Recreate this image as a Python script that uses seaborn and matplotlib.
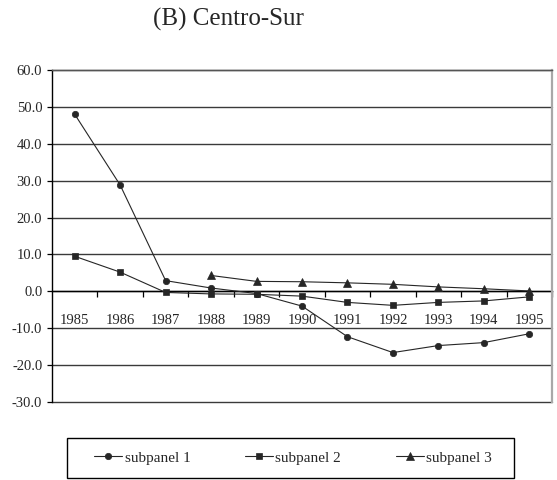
import numpy as np
import matplotlib
matplotlib.use("Agg")
import matplotlib.pyplot as plt
from matplotlib.patches import Rectangle
from matplotlib.ticker import FixedLocator, NullFormatter, FixedFormatter
import seaborn as sns

# Annual values for the Centro-Sur region
years = ["1985", "1986", "1987", "1988", "1989", "1990",
         "1991", "1992", "1993", "1994", "1995"]
subpanel_1 = [48.0, 28.8, 2.9, 0.9, -0.6, -4.0, -12.3, -16.6, -14.7, -13.9, -11.5]
subpanel_2 = [9.5, 5.2, -0.3, -0.7, -0.8, -1.3, -3.0, -3.8, -3.0, -2.6, -1.5]
subpanel_3 = [np.nan, np.nan, np.nan, 4.3, 2.7, 2.6, 2.3, 1.9, 1.2, 0.7, 0.1]
y_ticks = [60, 50, 40, 30, 20, 10, 0, -10, -20, -30]

sns.set_style("white")
plt.rcParams["font.family"] = ["Liberation Serif", "DejaVu Serif"]

W, H = 557, 480
fig = plt.figure(figsize=(W / 100, H / 100), dpi=100)
ax = fig.add_axes([52 / W, 1 - 402 / H, 500 / W, 332 / H])

pos = np.arange(len(years))
ink = "#262626"
series = [
    (subpanel_1, "o", 4.6, "subpanel 1"),
    (subpanel_2, "s", 5.0, "subpanel 2"),
    (subpanel_3, "^", 5.8, "subpanel 3"),
]
for vals, mk, ms, name in series:
    sns.lineplot(x=pos, y=vals, marker=mk, markersize=ms, color=ink,
                 markeredgecolor=ink, markeredgewidth=0.5, linewidth=0.8,
                 label=name, ax=ax, zorder=3)

ax.set_xlim(-0.5, len(years) - 0.5)
ax.set_ylim(-30, 60)

# horizontal gridlines
ax.set_yticks(y_ticks)
ax.set_yticklabels([f"{v:.1f}" for v in y_ticks], fontsize=10.5)
ax.yaxis.grid(True, color="#3a3a3a", linewidth=1.0)
ax.xaxis.grid(False)
for gl in ax.yaxis.get_gridlines():
    gl.set_clip_on(False)
ax.tick_params(axis="y", direction="out", length=3.5, width=0.9,
               color="black", pad=3.5, left=True)

# category axis drawn along zero with ticks between categories
ax.spines["bottom"].set_position(("data", 0))
ax.spines["bottom"].set_color("black")
ax.spines["bottom"].set_linewidth(1.0)
ax.spines["bottom"].set_zorder(2)
ax.xaxis.set_major_locator(FixedLocator(np.arange(0.5, len(years), 1.0)))
ax.xaxis.set_major_formatter(NullFormatter())
ax.xaxis.set_minor_locator(FixedLocator(pos))
ax.xaxis.set_minor_formatter(FixedFormatter(years))
ax.tick_params(axis="x", which="major", direction="out", length=4,
               width=0.9, color="black", bottom=True)
ax.tick_params(axis="x", which="minor", length=0, pad=16, labelsize=10.5,
               bottom=True)

ax.spines["left"].set_color("black")
ax.spines["left"].set_linewidth(1.0)
ax.spines["top"].set_color("#555555")
ax.spines["top"].set_linewidth(1.0)
ax.spines["right"].set_color("#a8a8a8")
ax.spines["right"].set_linewidth(1.6)
ax.set_xlabel("")
ax.set_ylabel("")

# legend entries spread across a boxed strip under the plot
handles, labels = ax.get_legend_handles_labels()
ax.get_legend().remove()
fig.legend(handles, labels, loc="center", ncol=3,
           bbox_to_anchor=(94 / W, 1 - 470 / H, (492 - 94) / W, 24 / H),
           mode="expand", fontsize=11, frameon=False,
           handlelength=1.85, handletextpad=0.15,
           borderpad=0.0, borderaxespad=0.0)
fig.patches.append(Rectangle((67 / W, 1 - 478 / H), 447 / W, 40 / H,
                             transform=fig.transFigure, fill=False,
                             edgecolor="black", linewidth=1.0))

fig.text(228 / W, 1 - 19 / H, "(B) Centro-Sur", ha="center", va="center",
         fontsize=18)

fig.savefig("out.png", dpi=100)
